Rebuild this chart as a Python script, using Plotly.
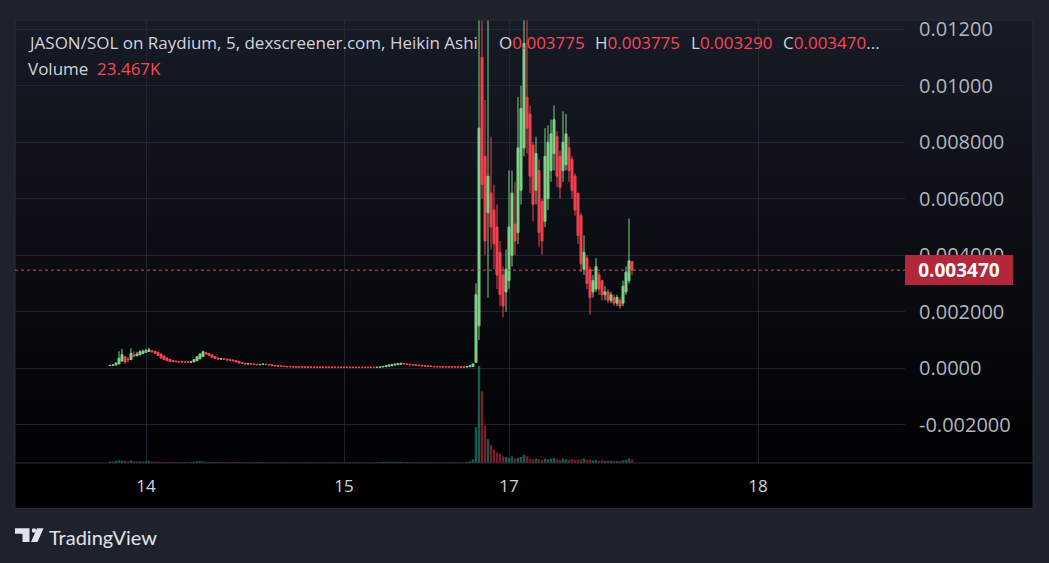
import plotly.graph_objects as go

# ---------------- data ----------------
opens_left = [
    0.00009, 0.00010, 0.00011, 0.00015, 0.00025, 0.00040, 0.00031, 0.00030, 0.00047, 0.00044,
    0.00047, 0.00052, 0.00056, 0.00059, 0.00062, 0.00060, 0.00056, 0.00050, 0.00043, 0.00036,
    0.00031, 0.00027, 0.00025, 0.00024, 0.00023, 0.00022, 0.00022, 0.00021, 0.00022, 0.00026,
    0.00033, 0.00041, 0.00055, 0.00052, 0.00047, 0.00041, 0.00036, 0.00032, 0.00033, 0.00032,
    0.00030, 0.00029, 0.00027, 0.00024, 0.00020, 0.00018, 0.00015, 0.00016, 0.00015, 0.00013,
    0.00012, 0.00013, 0.00014, 0.00013, 0.00012, 0.00010, 0.00009, 0.00008, 0.00007, 0.00006,
    0.00006, 0.000050, 0.000046, 0.000043, 0.000041, 0.000040, 0.000039, 0.000038, 0.000037, 0.000036,
    0.000035, 0.000034, 0.000034, 0.000033, 0.000032, 0.000032, 0.000031, 0.000031, 0.000030, 0.000030,
    0.000030, 0.000029, 0.000029, 0.000029, 0.000029, 0.000029, 0.000029, 0.000029, 0.000029, 0.000029,
    0.00003, 0.00004, 0.00005, 0.00007, 0.00009, 0.00011, 0.00012, 0.00014, 0.00016, 0.00015,
    0.00014, 0.00013, 0.00012, 0.00011, 0.00010, 0.00009, 0.00008, 0.00007, 0.00006, 0.000055,
    0.000052, 0.000050, 0.000048, 0.000047, 0.000046, 0.000045, 0.000044, 0.000043, 0.000042, 0.00004,
    0.00005, 0.00006,
]
highs_left = [
    0.00011, 0.00012, 0.00020, 0.00060, 0.00068, 0.00042, 0.00040, 0.00070, 0.00060, 0.00058,
    0.00064, 0.00066, 0.00068, 0.00072, 0.00064, 0.00061, 0.00057, 0.00051, 0.00044, 0.00037,
    0.00032, 0.00028, 0.00026, 0.00025, 0.00024, 0.00024, 0.00023, 0.00024, 0.00032, 0.00042,
    0.00052, 0.00062, 0.00057, 0.00053, 0.00048, 0.00042, 0.00037, 0.00035, 0.00034, 0.00033,
    0.00031, 0.00030, 0.00028, 0.00025, 0.00021, 0.00019, 0.00017, 0.00017, 0.00016, 0.00014,
    0.00014, 0.00015, 0.00015, 0.00014, 0.00013, 0.00011, 0.00010, 0.00009, 0.00008, 0.00007,
    0.00006, 0.000055, 0.000050, 0.000048, 0.000046, 0.000044, 0.000043, 0.000042, 0.000041, 0.000040,
    0.000039, 0.000038, 0.000037, 0.000037, 0.000036, 0.000036, 0.000035, 0.000035, 0.000034, 0.000034,
    0.000034, 0.000033, 0.000033, 0.000033, 0.000033, 0.000033, 0.000033, 0.000033, 0.000033, 0.000034,
    0.00005, 0.00007, 0.00009, 0.00012, 0.00014, 0.00015, 0.00017, 0.00018, 0.00017, 0.00016,
    0.00015, 0.00014, 0.00013, 0.00012, 0.00011, 0.00010, 0.00009, 0.00008, 0.00007, 0.00006,
    0.000058, 0.000056, 0.000054, 0.000052, 0.000051, 0.000050, 0.000049, 0.000048, 0.000047, 0.00006,
    0.00009, 0.00016,
]
lows_left = [
    0.00008, 0.00009, 0.00010, 0.00014, 0.00024, 0.00015, 0.00020, 0.00029, 0.00040, 0.00042,
    0.00046, 0.00051, 0.00055, 0.00058, 0.00056, 0.00050, 0.00043, 0.00034, 0.00029, 0.00025,
    0.00023, 0.00022, 0.00022, 0.00021, 0.00021, 0.00021, 0.00020, 0.00020, 0.00021, 0.00025,
    0.00032, 0.00040, 0.00049, 0.00044, 0.00037, 0.00033, 0.00031, 0.00031, 0.00030, 0.00028,
    0.00027, 0.00025, 0.00021, 0.00017, 0.00016, 0.00014, 0.00014, 0.00013, 0.00012, 0.00011,
    0.00011, 0.00012, 0.00012, 0.00010, 0.00008, 0.00007, 0.00006, 0.00005, 0.00005, 0.00004,
    0.00004, 0.000038, 0.000036, 0.000035, 0.000034, 0.000033, 0.000032, 0.000031, 0.000030, 0.000030,
    0.000029, 0.000029, 0.000028, 0.000028, 0.000027, 0.000027, 0.000027, 0.000026, 0.000026, 0.000026,
    0.000025, 0.000025, 0.000025, 0.000025, 0.000025, 0.000025, 0.000025, 0.000025, 0.000025, 0.000026,
    0.00003, 0.00004, 0.00005, 0.00006, 0.00008, 0.00010, 0.00012, 0.00013, 0.00014, 0.00012,
    0.00011, 0.00010, 0.00009, 0.00008, 0.00007, 0.00006, 0.00005, 0.00005, 0.00004, 0.00004,
    0.000040, 0.000040, 0.000038, 0.000038, 0.000037, 0.000036, 0.000035, 0.000035, 0.000034, 0.00004,
    0.00004, 0.00006,
]
closes_left = [
    0.00010, 0.00011, 0.00018, 0.00035, 0.00048, 0.00022, 0.00030, 0.00052, 0.00042, 0.00050,
    0.00058, 0.00060, 0.00062, 0.00065, 0.00058, 0.00052, 0.00045, 0.00036, 0.00030, 0.00026,
    0.00024, 0.00023, 0.00023, 0.00022, 0.00022, 0.00022, 0.00021, 0.00022, 0.00030, 0.00040,
    0.00050, 0.00058, 0.00050, 0.00045, 0.00038, 0.00034, 0.00032, 0.00033, 0.00031, 0.00029,
    0.00028, 0.00026, 0.00022, 0.00018, 0.00017, 0.00015, 0.00016, 0.00014, 0.00013, 0.00012,
    0.00013, 0.00014, 0.00013, 0.00011, 0.00009, 0.00008, 0.00007, 0.00006, 0.00006, 0.00005,
    0.00005, 0.000042, 0.000040, 0.000039, 0.000038, 0.000037, 0.000036, 0.000035, 0.000034, 0.000033,
    0.000032, 0.000032, 0.000031, 0.000031, 0.000030, 0.000030, 0.000030, 0.000029, 0.000029, 0.000029,
    0.000028, 0.000028, 0.000028, 0.000028, 0.000028, 0.000028, 0.000028, 0.000028, 0.000028, 0.000030,
    0.00004, 0.00006, 0.00008, 0.00011, 0.00013, 0.00014, 0.00016, 0.00017, 0.00015, 0.00013,
    0.00012, 0.00011, 0.00010, 0.00009, 0.00008, 0.00007, 0.00006, 0.00006, 0.00005, 0.000048,
    0.000046, 0.000045, 0.000044, 0.000043, 0.000042, 0.000041, 0.000040, 0.000040, 0.000039, 0.00005,
    0.00008, 0.00015,
]

opens_right = [
    0.0002, 0.0015, 0.0110, 0.0075, 0.0055, 0.0062, 0.0056, 0.0050, 0.0041, 0.0033,
    0.0027, 0.0031, 0.0040, 0.0051, 0.0048, 0.0063, 0.0078, 0.0096, 0.0090, 0.0079,
    0.0063, 0.0070, 0.0059, 0.0052, 0.0060, 0.0070, 0.0076, 0.0082, 0.0075, 0.0070,
    0.0072, 0.0078, 0.0074, 0.0068, 0.0062, 0.0054, 0.0035, 0.0039, 0.0035, 0.0027,
    0.0028, 0.0033, 0.0031, 0.0026, 0.0027, 0.0024, 0.0025, 0.0023, 0.0024, 0.0023,
    0.0027, 0.0031, 0.003775,
]
highs_right = [
    0.0030, 0.0124, 0.0124, 0.0095, 0.0124, 0.0082, 0.0065, 0.0058, 0.0045, 0.0036,
    0.0042, 0.0070, 0.0070, 0.0066, 0.0096, 0.0100, 0.0124, 0.0124, 0.0093, 0.0080,
    0.0082, 0.0074, 0.0060, 0.0085, 0.0086, 0.0088, 0.0093, 0.0084, 0.0077, 0.0091,
    0.0090, 0.0082, 0.0075, 0.0069, 0.0062, 0.0055, 0.0047, 0.0040, 0.0036, 0.0033,
    0.0039, 0.0034, 0.0031, 0.0029, 0.0028, 0.0027, 0.0026, 0.0026, 0.0025, 0.0031,
    0.0036, 0.0053, 0.003775,
]
lows_right = [
    0.0002, 0.0010, 0.0060, 0.0040, 0.0025, 0.0042, 0.0035, 0.0028, 0.0022, 0.0018,
    0.0020, 0.0028, 0.0036, 0.0040, 0.0044, 0.0058, 0.0075, 0.0076, 0.0062, 0.0052,
    0.0058, 0.0043, 0.0040, 0.0050, 0.0056, 0.0066, 0.0070, 0.0064, 0.0060, 0.0066,
    0.0070, 0.0066, 0.0060, 0.0054, 0.0044, 0.0034, 0.0033, 0.0028, 0.0019, 0.0025,
    0.0027, 0.0026, 0.0024, 0.0024, 0.0023, 0.0023, 0.0022, 0.0022, 0.0021, 0.0022,
    0.0026, 0.0030, 0.00329,
]
closes_right = [
    0.0026, 0.0085, 0.0065, 0.0045, 0.0068, 0.0050, 0.0044, 0.0033, 0.0026, 0.0022,
    0.0035, 0.0050, 0.0062, 0.0045, 0.0078, 0.0092, 0.0115, 0.0085, 0.0068, 0.0058,
    0.0076, 0.0048, 0.0045, 0.0075, 0.0080, 0.0083, 0.0088, 0.0068, 0.0064, 0.0080,
    0.0083, 0.0070, 0.0063, 0.0056, 0.0047, 0.0037, 0.0041, 0.0030, 0.0025, 0.0031,
    0.0036, 0.0028, 0.0026, 0.0027, 0.0024, 0.0026, 0.0023, 0.0025, 0.0022, 0.0029,
    0.0034, 0.0038, 0.00347,
]

# volume in thousands
volume_left = [
    10, 9, 14, 18, 16, 15, 12, 16, 12, 10,
    11, 10, 12, 13, 10, 9, 9, 8, 8, 7,
    7, 6, 6, 6, 6, 6, 5, 6, 9, 12,
    13, 11, 9, 8, 7, 7, 6, 7, 6, 6,
    6, 6, 7, 7, 6, 6, 6, 5, 5, 5,
    5, 6, 5, 5, 6, 5, 5, 5, 5, 5,
    5, 5, 5, 5, 5, 5, 5, 5, 5, 5,
    5, 5, 5, 5, 5, 5, 5, 5, 5, 5,
    5, 5, 5, 5, 5, 5, 5, 5, 5, 6,
    7, 8, 9, 9, 8, 8, 9, 8, 7, 6,
    6, 6, 6, 6, 5, 5, 5, 5, 5, 5,
    5, 5, 5, 5, 5, 5, 5, 5, 5, 8,
    12, 25,
]
volume_right = [
    240, 650, 480, 250, 160, 120, 90, 70, 60, 45,
    40, 35, 45, 30, 35, 40, 55, 45, 30, 25,
    30, 25, 20, 30, 25, 30, 35, 25, 20, 30,
    25, 20, 25, 20, 22, 25, 30, 20, 25, 18,
    20, 15, 18, 14, 16, 14, 15, 13, 15, 18,
    22, 30, 23.467,
]

day_tick_index = [12, 78, 133, 216]
day_tick_label = ["14", "15", "17", "18"]

price_ticks = [-0.002, 0.0, 0.002, 0.004, 0.006, 0.008, 0.010, 0.012]
price_tick_text = ["-0.002000", "0.0000", "0.002000", "0.004000",
                   "0.006000", "0.008000", "0.01000", "0.01200"]

last_price = 0.00347

opens = opens_left + opens_right
highs = highs_left + highs_right
lows = lows_left + lows_right
closes = closes_left + closes_right
volume = volume_left + volume_right
bar_index = list(range(len(closes)))

# ---------------- styling ----------------
UP = "#7fcf86"
DOWN = "#f2404e"
VOL_UP = "rgba(38,166,140,0.55)"
VOL_DOWN = "rgba(242,54,69,0.5)"
GRID = "rgba(42,46,57,0.75)"
TEXT = "#d1d4dc"
FONT = "Open Sans"
PAGE_BG = "#1e222d"

vol_colors = [VOL_UP if c > o else VOL_DOWN for o, c in zip(opens, closes)]

# the page puts the figure 8px from the window's top-left corner
PAGE_OFF = 8
W, H = 1049 - PAGE_OFF, 563 - PAGE_OFF
# plot area, in window pixels
L, R, T, B = 15, 905, 15, 463


def X(px):
    return (px - L) / (R - L)


def Y(py):
    return (B - py) / (B - T)


fig = go.Figure()
fig.add_trace(go.Candlestick(
    x=bar_index, open=opens, high=highs, low=lows, close=closes,
    increasing=dict(line=dict(color=UP, width=1), fillcolor=UP),
    decreasing=dict(line=dict(color=DOWN, width=1), fillcolor=DOWN),
    whiskerwidth=0, showlegend=False, hoverinfo="skip",
))
fig.add_trace(go.Bar(
    x=bar_index, y=volume, yaxis="y2",
    marker=dict(color=vol_colors, line=dict(width=0)),
    showlegend=False, hoverinfo="skip",
))

shapes = []
# vertical gradient panel background
top_rgb = (23, 27, 38)
bot_rgb = (1, 1, 3)
nb = 45
for k in range(nb):
    py0 = T + (B - T) * k / nb
    py1 = T + (B - T) * (k + 1) / nb
    f = (k + 0.5) / nb
    col = tuple(round(top_rgb[j] + (bot_rgb[j] - top_rgb[j]) * f) for j in range(3))
    shapes.append(dict(type="rect", xref="paper", yref="paper", layer="below",
                       x0=X(15), x1=X(1033), y0=Y(py1), y1=Y(py0) + 0.002,
                       fillcolor="rgb(%d,%d,%d)" % col, line=dict(width=0)))
# time axis band
shapes.append(dict(type="rect", xref="paper", yref="paper", layer="below",
                   x0=X(15), x1=X(1033), y0=Y(509), y1=Y(463),
                   fillcolor="#000000", line=dict(width=0)))
# panel border and separator
shapes.append(dict(type="rect", xref="paper", yref="paper", layer="above",
                   x0=X(15), x1=X(1033), y0=Y(509), y1=Y(15),
                   fillcolor="rgba(0,0,0,0)", line=dict(color="#2a2e39", width=1)))
shapes.append(dict(type="line", xref="paper", yref="paper", layer="above",
                   x0=X(15), x1=X(1033), y0=Y(463), y1=Y(463),
                   line=dict(color="#2a2e39", width=1)))
# last price dotted line
shapes.append(dict(type="line", xref="paper", yref="y", layer="above",
                   x0=0, x1=1, y0=last_price, y1=last_price,
                   line=dict(color=DOWN, width=1, dash="dot")))
# TradingView logo
logo_col = "#e0e3eb"
shapes.append(dict(type="path", xref="paper", yref="paper", layer="above",
                   path="M %f,%f L %f,%f L %f,%f L %f,%f L %f,%f L %f,%f Z" % (
                       X(15), Y(529), X(29.5), Y(529), X(29.5), Y(543),
                       X(22.5), Y(543), X(22.5), Y(534.5), X(15), Y(534.5)),
                   fillcolor=logo_col, line=dict(width=0)))
shapes.append(dict(type="circle", xref="paper", yref="paper", layer="above",
                   x0=X(31.8), x1=X(36.2), y0=Y(533.5), y1=Y(529.1),
                   fillcolor=logo_col, line=dict(width=0)))
shapes.append(dict(type="path", xref="paper", yref="paper", layer="above",
                   path="M %f,%f L %f,%f L %f,%f L %f,%f Z" % (
                       X(37), Y(529), X(43.5), Y(529), X(37.5), Y(543), X(31), Y(543)),
                   fillcolor=logo_col, line=dict(width=0)))

ann = []


def txt(px, py, text, size=17, color=TEXT, anchor="left", family=FONT):
    ann.append(dict(xref="paper", yref="paper", x=X(px), y=Y(py), text=text,
                    showarrow=False, xanchor=anchor, yanchor="middle",
                    font=dict(size=size, color=color, family=family)))


RED_TXT = "#f7475a"
txt(26, 38, "JASON/SOL on Raydium, 5, dexscreener.com, Heikin Ashi")
txt(497, 38, "O<span style='color:%s'>0.003775</span>" % RED_TXT)
txt(593, 38, "H<span style='color:%s'>0.003775</span>" % RED_TXT)
txt(689, 38, "L<span style='color:%s'>0.003290</span>" % RED_TXT)
txt(781, 38, "C<span style='color:%s'>0.003470</span>..." % RED_TXT)
txt(26, 64, "Volume")
txt(95, 64, "23.467K", color=RED_TXT)
txt(47, 538, "TradingView", size=20, color=logo_col, family="Lato")

# last price label
ann.append(dict(xref="paper", yref="y", x=1, y=last_price, xanchor="left",
                yanchor="middle", text="<b>0.003470</b>", showarrow=False,
                bgcolor="#b2283a", bordercolor="#b2283a", borderwidth=0,
                borderpad=4, width=100, height=22, align="center",
                font=dict(size=19, color="#ffffff", family=FONT)))

fig.update_layout(
    width=W, height=H,
    margin=dict(l=L - PAGE_OFF, r=W - (R - PAGE_OFF), t=T - PAGE_OFF, b=H - (B - PAGE_OFF)),
    paper_bgcolor=PAGE_BG, plot_bgcolor="rgba(0,0,0,0)",
    shapes=shapes, annotations=ann, bargap=0.2, boxgap=0.05,
    xaxis=dict(range=[-31.67, 265], tickvals=day_tick_index, ticktext=day_tick_label,
               showgrid=True, gridcolor=GRID, gridwidth=1, zeroline=False,
               showline=False, ticks="", ticklabelstandoff=11,
               tickfont=dict(size=17, color=TEXT, family=FONT),
               rangeslider=dict(visible=False), fixedrange=True),
    yaxis=dict(range=[-0.00336, 0.01233], side="right", tickvals=price_ticks,
               ticktext=price_tick_text, showgrid=True, gridcolor=GRID, gridwidth=1,
               zeroline=False, showline=False, ticks="", ticklabelstandoff=13,
               tickfont=dict(size=20, color="#b2b5be", family=FONT), fixedrange=True),
    yaxis2=dict(overlaying="y", range=[0, 2970], visible=False, fixedrange=True),
)

fig.write_html(
    "out.html",
    post_script="document.body.style.backgroundColor='%s';"
                "document.documentElement.style.backgroundColor='%s';" % (PAGE_BG, PAGE_BG),
)
